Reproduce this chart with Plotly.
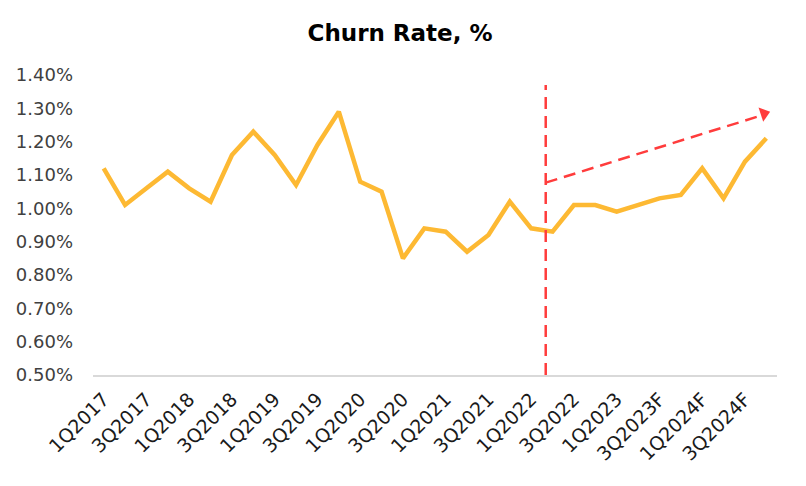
import plotly.graph_objects as go

quarters = [
    "1Q2017", "2Q2017", "3Q2017", "4Q2017",
    "1Q2018", "2Q2018", "3Q2018", "4Q2018",
    "1Q2019", "2Q2019", "3Q2019", "4Q2019",
    "1Q2020", "2Q2020", "3Q2020", "4Q2020",
    "1Q2021", "2Q2021", "3Q2021", "4Q2021",
    "1Q2022", "2Q2022", "3Q2022", "4Q2022",
    "1Q2023", "2Q2023F", "3Q2023F", "4Q2023F",
    "1Q2024F", "2Q2024F", "3Q2024F", "4Q2024F",
]
churn_rate = [
    1.12, 1.01, 1.06, 1.11,
    1.06, 1.02, 1.16, 1.23,
    1.16, 1.07, 1.19, 1.29,
    1.08, 1.05, 0.85, 0.94,
    0.93, 0.87, 0.92, 1.02,
    0.94, 0.93, 1.01, 1.01,
    0.99, 1.01, 1.03, 1.04,
    1.12, 1.03, 1.14, 1.21,
]
tick_labels = quarters[::2]

# annotation guides (category index / value)
split_x = 20.68
split_top = 1.37
trend_start = (20.68, 1.077)
trend_end = (31.14, 1.292)

font_family = "'DejaVu Sans', sans-serif"
red = "#FF3C3C"

fig = go.Figure()
fig.add_trace(go.Scatter(
    x=list(range(len(quarters))), y=churn_rate, mode="lines",
    line=dict(color="#FDB933", width=4.5), hoverinfo="skip", showlegend=False,
))
# arrowhead
fig.add_trace(go.Scatter(
    x=[trend_end[0] - 0.25], y=[trend_end[1] - 0.008], mode="markers",
    marker=dict(symbol="triangle-up", size=13, angle=72, color=red, line=dict(width=0)),
    hoverinfo="skip", showlegend=False,
))

fig.add_shape(type="line", x0=split_x, x1=split_x, y0=0.5, y1=split_top,
              xref="x", yref="y", line=dict(color=red, width=2.5, dash="12px,7px"))
fig.add_shape(type="line", x0=trend_start[0], y0=trend_start[1],
              x1=trend_end[0] - 0.45, y1=trend_end[1] - 0.015,
              xref="x", yref="y", line=dict(color=red, width=2.5, dash="12px,7px"))

fig.update_layout(
    width=806, height=486,
    margin=dict(l=85, r=37, t=67, b=119),
    paper_bgcolor="white", plot_bgcolor="white",
    font=dict(family=font_family, color="#262626"),
    title=dict(text="<b>Churn Rate, %</b>", x=(400 - 8) / 806, xanchor="center",
               y=1 - 25 / 486, yref="container", yanchor="middle",
               font=dict(size=23, color="#000000", family=font_family)),
    xaxis=dict(
        range=[-0.5, len(quarters) - 0.5], automargin=False,
        tickmode="array", tickvals=list(range(0, len(quarters), 2)), ticktext=tick_labels,
        tickangle=-45, tickfont=dict(size=19, color="#1A1A1A"), ticklabelstandoff=4,
        showgrid=False, zeroline=False, showline=True, linecolor="#D9D9D9", linewidth=1.5,
        ticks="",
    ),
    yaxis=dict(
        range=[0.5, 1.4], tickmode="linear", tick0=0.5, dtick=0.1, automargin=False,
        tickformat=".2f", ticksuffix="%", tickfont=dict(size=18, color="#404040"),
        ticklabelstandoff=19,
        showgrid=False, zeroline=False, showline=False, ticks="",
    ),
)

fig.write_html("out.html")
